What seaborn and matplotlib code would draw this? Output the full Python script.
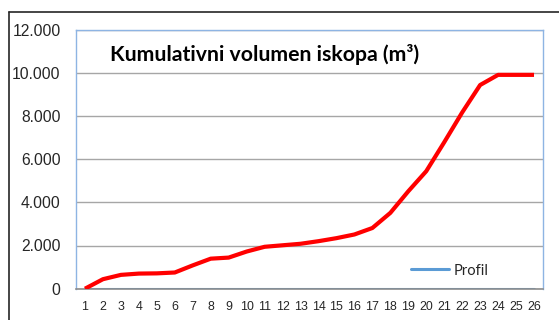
import matplotlib
matplotlib.use("Agg")
import matplotlib.pyplot as plt
from matplotlib.ticker import FuncFormatter
from matplotlib.lines import Line2D
import seaborn as sns
import pandas as pd

# Cross-section numbers and cumulative excavation volume (m3)
profili = list(range(1, 27))
kumulativni_volumen = [0, 440, 640, 700, 710, 750, 1080, 1390, 1440, 1720,
                       1940, 2010, 2080, 2200, 2340, 2510, 2810, 3510, 4510, 5440,
                       6780, 8160, 9430, 9900, 9900, 9900]
profil_serija = [0] * 26
y_ticks = [0, 2000, 4000, 6000, 8000, 10000, 12000]
naslov = "Kumulativni volumen iskopa (m\u00b3)"

df = pd.DataFrame({"pos": range(26), "profil": profili,
                   "volumen": kumulativni_volumen, "serija": profil_serija})

sns.set_theme(style="white")
plt.rcParams["font.family"] = ["Liberation Sans", "DejaVu Sans"]

fig = plt.figure(figsize=(5.59, 3.2), dpi=100)
ax = fig.add_axes([76 / 559, 1 - 288.7 / 320, (543 - 76) / 559, (288.7 - 29.5) / 320])

sns.lineplot(data=df, x="pos", y="volumen", ax=ax, color="#ff0000",
             linewidth=3.0, solid_capstyle="butt", zorder=3)
sns.lineplot(data=df, x="pos", y="serija", ax=ax, color="#5b9bd5",
             linewidth=2.2, zorder=2, label="Profil")

ax.set_xlim(-0.5, 25.5)
ax.set_ylim(0, 12000)
ax.set_xticks(df["pos"])
ax.set_xticklabels([str(p) for p in profili], fontsize=8.9)
ax.set_yticks(y_ticks)
ax.yaxis.set_major_formatter(FuncFormatter(lambda v, _: f"{int(v):,}".replace(",", ".")))
ax.tick_params(axis="y", labelsize=11.3, pad=11, length=0)
ax.tick_params(axis="x", pad=9, length=0)
ax.set_xlabel("")
ax.set_ylabel("")

ax.grid(axis="y", color="#a6a6a6", linewidth=1.0)
ax.set_axisbelow(True)
for side in ("left", "right", "top"):
    ax.spines[side].set_color("#8eb4e3")
    ax.spines[side].set_linewidth(1.0)
ax.spines["bottom"].set_color("#8c8c8c")
ax.spines["bottom"].set_linewidth(1.2)

ax.text(0.073, 0.905, naslov, transform=ax.transAxes, fontsize=15.3,
        fontweight="bold", family=["Lato", "DejaVu Sans"], va="center", ha="left",
        color="#000000")

leg = ax.legend(loc="lower left", bbox_to_anchor=(0.705, 0.02), frameon=False,
                handlelength=2.6, handletextpad=0.3, borderaxespad=0,
                prop={"family": ["Lato", "DejaVu Sans"], "size": 10.6})

# chart frame
fig.add_artist(Line2D([9 / 559, 9 / 559], [0, 1 - 12 / 320], transform=fig.transFigure,
                      color="#262626", linewidth=1.2))
fig.add_artist(Line2D([9 / 559, 1], [1 - 12 / 320, 1 - 12 / 320], transform=fig.transFigure,
                      color="#262626", linewidth=1.2))

fig.savefig("out.png", dpi=100)
